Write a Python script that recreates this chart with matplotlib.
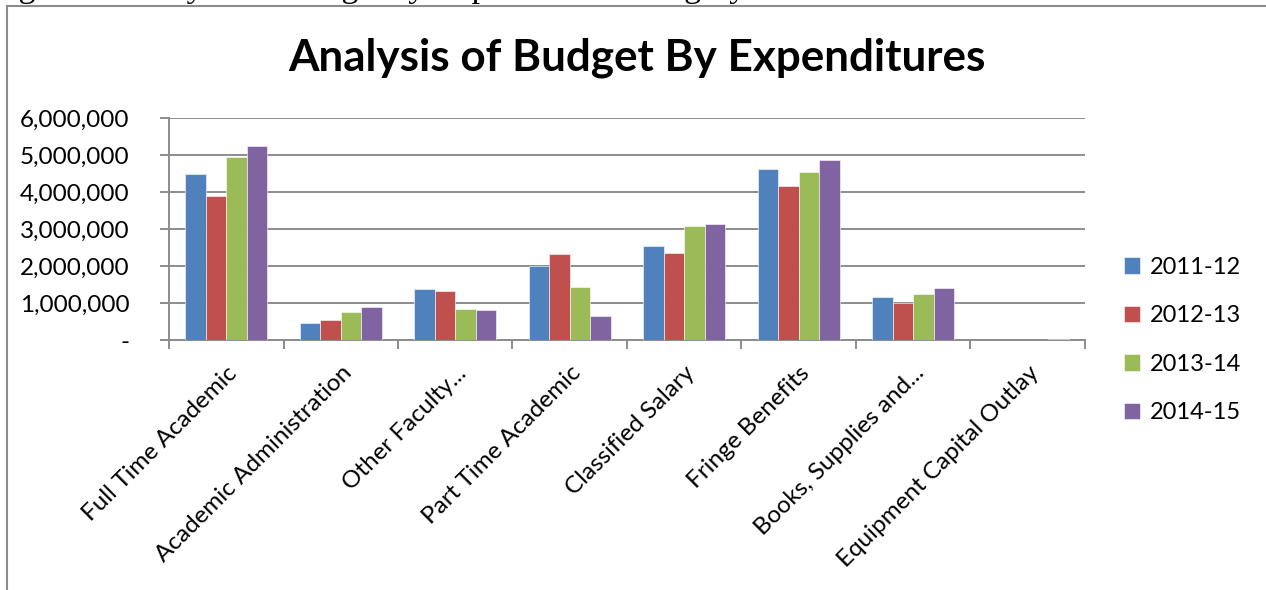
import matplotlib as mpl
mpl.use('Agg')
import matplotlib.pyplot as plt
import numpy as np
from matplotlib.patches import Rectangle
from matplotlib.ticker import FuncFormatter

plt.rcParams['font.family'] = ['Lato', 'DejaVu Sans']

categories = ['Full Time Academic', 'Academic Administration', 'Other Faculty...',
              'Part Time Academic', 'Classified Salary', 'Fringe Benefits',
              'Books, Supplies and...', 'Equipment Capital Outlay']
years = ['2011-12', '2012-13', '2013-14', '2014-15']
fy2011 = [4490000, 450000, 1370000, 2000000, 2530000, 4630000, 1160000, 0]
fy2012 = [3900000, 540000, 1330000, 2320000, 2340000, 4170000, 990000, 0]
fy2013 = [4940000, 770000, 840000, 1420000, 3070000, 4550000, 1240000, 0]
fy2014 = [5240000, 880000, 810000, 660000, 3130000, 4860000, 1410000, 20000]
colors = ['#4F81BD', '#C0504D', '#9BBB59', '#8064A2']

fig = plt.figure(figsize=(12.66, 5.9), dpi=100)
ax = fig.add_axes([0.1335, 0.4237, 0.7235, 0.3763])

# outer chart border (only left and top visible in the crop)
fig.patches.append(Rectangle((7 / 1266, -0.5), 2.0, 1.5 - 6 / 590,
                             transform=fig.transFigure, fill=False,
                             edgecolor='#8c8c8c', linewidth=1.5))
# caption above the chart, cut off by the page edge
fig.text(-0.008, 1.019, 'Figure 6: Analysis of Budget by Expenditures Category',
         family='Liberation Serif', fontsize=24.5, va='center', ha='left')

x = np.arange(len(categories))
w = 0.18
for i, (vals, c, lab) in enumerate(zip([fy2011, fy2012, fy2013, fy2014], colors, years)):
    ax.bar(x + (i - 1.5) * w, vals, w, color=c, label=lab,
           edgecolor='white', linewidth=0.4, zorder=3)

ax.set_xlim(-0.5, len(categories) - 0.5)
ax.set_ylim(0, 6000000)
ax.set_yticks(np.arange(0, 6000001, 1000000))
ax.yaxis.set_major_formatter(FuncFormatter(lambda v, p: '-' if v == 0 else f'{int(v):,}'))
ax.grid(axis='y', color='#8c8c8c', linewidth=1.4, zorder=0)
ax.set_xticks(np.arange(-0.5, len(categories)), minor=False)
ax.set_xticklabels([])
ax.set_xticks(x, minor=True)
ax.set_xticklabels(categories, minor=True, rotation=45, ha='right',
                   rotation_mode='anchor', fontsize=17.5)
ax.tick_params(axis='x', which='minor', length=0, pad=16)
ax.tick_params(axis='x', which='major', length=6.5, color='#8c8c8c', width=1.4)
ax.tick_params(axis='y', length=6.5, color='#8c8c8c', width=1.4, labelsize=17.5, pad=22)
for s in ['top', 'right']:
    ax.spines[s].set_visible(False)
for s in ['left', 'bottom']:
    ax.spines[s].set_color('#8c8c8c')
    ax.spines[s].set_linewidth(1.4)

ax.set_title('Analysis of Budget By Expenditures', fontsize=31.7, fontweight='bold',
             pad=34, x=0.511)

ax.legend(loc='center left', bbox_to_anchor=(1.019, 0.0), frameon=False,
          fontsize=17, handlelength=0.7, handleheight=0.7, handletextpad=0.4,
          labelspacing=1.16)

fig.savefig('out.png', dpi=100)
